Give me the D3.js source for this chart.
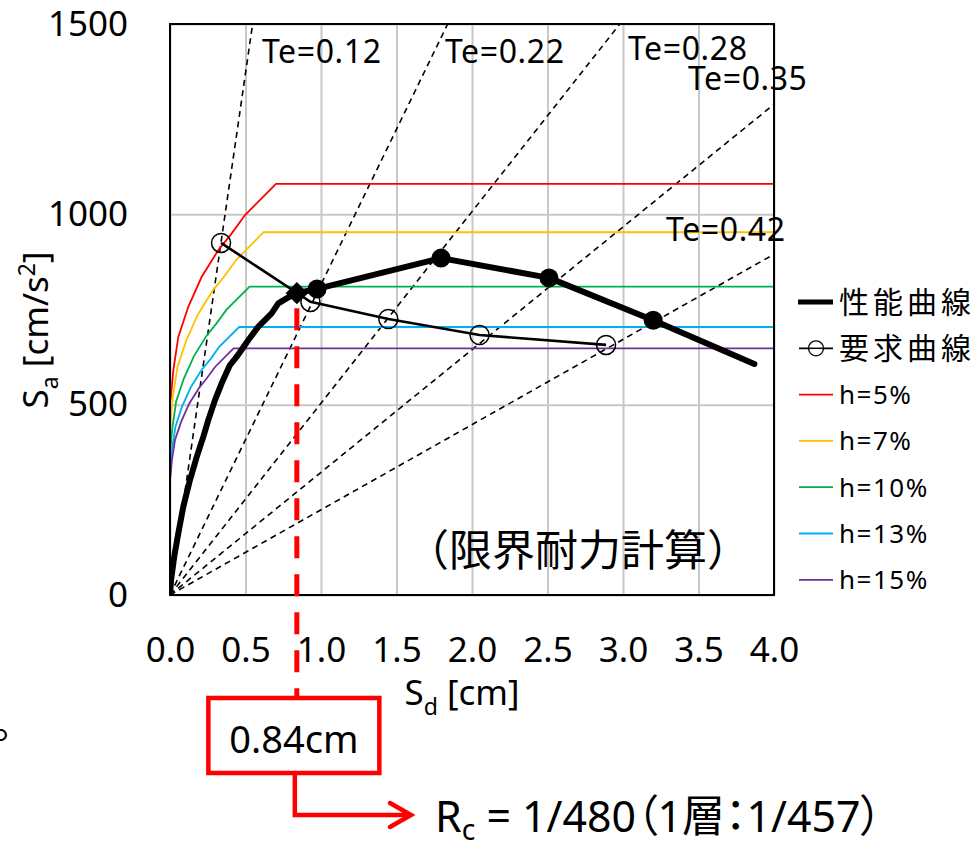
<!DOCTYPE html>
<html>
<head>
<meta charset="utf-8">
<script src="https://cdn.jsdelivr.net/npm/d3@7"></script>
<style>
  html, body { margin: 0; padding: 0; background: #fff; }
  svg { display: block; font-family: "Noto Sans", "Noto Sans CJK JP", sans-serif; }
  .palt { font-feature-settings: "palt" 1; }
</style>
</head>
<body>
<svg id="chart" width="980" height="844"></svg>
<script>
// ---- data ---------------------------------------------------------------
// axes: Sd [cm] horizontal, Sa [cm/s²] vertical
const xTicks = [0, 0.5, 1.0, 1.5, 2.0, 2.5, 3.0, 3.5, 4.0];
const yTicks = [0, 500, 1000, 1500];

// 性能曲線 (capacity curve) as [Sd, Sa]
const capacityCurve = [
  [0, 0], [0.007, 39], [0.028, 101], [0.055, 162], [0.088, 232], [0.132, 302],
  [0.177, 363], [0.221, 416], [0.254, 460], [0.298, 512], [0.342, 556],
  [0.397, 604], [0.442, 626], [0.519, 670], [0.585, 705], [0.673, 740],
  [0.717, 766], [0.775, 780], [0.84, 793], [0.974, 804], [1.795, 885],
  [2.51, 833], [3.20, 722], [3.87, 607]
];
// step points marked with filled dots
const capacitySteps = [[0.974, 804], [1.795, 885], [2.51, 833], [3.20, 722]];
// performance point (diamond)
const performancePoint = [0.84, 793];

// 要求曲線 (demand curve) as [Sd, Sa]
const demandCurve = [[0.338, 925], [0.93, 770], [1.446, 725], [2.05, 683], [2.888, 657]];

// equivalent periods of the radial guide lines
const periodsTe = [0.12, 0.22, 0.28, 0.35, 0.42];

// response spectra for each damping ratio, [Sd, Sa]
const dampingNames = ["h=5%", "h=7%", "h=10%", "h=13%", "h=15%"];
const spectrumH5 = [[0, 505], [0.007, 525], [0.022, 591], [0.055, 678], [0.121, 757], [0.21, 836],
  [0.32, 906], [0.409, 950], [0.497, 998], [0.702, 1080], [4.0, 1080]];
const spectrumH7 = [[0, 445], [0.006, 463], [0.019, 521], [0.049, 598], [0.107, 668], [0.185, 737],
  [0.282, 799], [0.361, 838], [0.438, 880], [0.619, 953], [4.0, 953]];
const spectrumH10 = [[0, 380], [0.005, 394], [0.017, 443], [0.041, 509], [0.091, 568], [0.158, 627],
  [0.24, 680], [0.307, 713], [0.373, 749], [0.527, 810], [4.0, 810]];
const spectrumH13 = [[0, 330], [0.005, 342], [0.014, 385], [0.036, 442], [0.079, 494], [0.137, 545],
  [0.209, 591], [0.267, 619], [0.324, 651], [0.458, 704], [4.0, 704]];
const spectrumH15 = [[0, 303], [0.004, 315], [0.013, 355], [0.033, 407], [0.073, 454], [0.126, 502],
  [0.192, 544], [0.245, 570], [0.298, 599], [0.421, 648], [4.0, 648]];

// response displacement and drift results
const responseSd = 0.84;
const driftRatio = "1/480";
const firstStoryDrift = "1/457";

// ---- layout -------------------------------------------------------------
const svg = d3.select("#chart");
const plot = { left: 170, top: 24, right: 774, bottom: 595 };
const x = d3.scaleLinear().domain([0, 4]).range([plot.left, plot.right]);
const y = d3.scaleLinear().domain([0, 1500]).range([plot.bottom, plot.top]);

const spectra = [spectrumH5, spectrumH7, spectrumH10, spectrumH13, spectrumH15];
const spectrumColors = ["#ff0000", "#ffc000", "#00b050", "#00b0f0", "#7030a0"];

svg.append("defs").append("clipPath").attr("id", "plotClip")
  .append("rect")
  .attr("x", plot.left).attr("y", plot.top)
  .attr("width", plot.right - plot.left).attr("height", plot.bottom - plot.top);

// gridlines
svg.append("g")
  .attr("transform", `translate(0,${plot.bottom})`)
  .call(d3.axisBottom(x).tickValues(xTicks).tickSize(-(plot.bottom - plot.top)).tickFormat(""))
  .call(g => g.select(".domain").remove())
  .call(g => g.selectAll("line").attr("stroke", "#c8c8c8").attr("stroke-width", 2));
svg.append("g")
  .attr("transform", `translate(${plot.left},0)`)
  .call(d3.axisLeft(y).tickValues(yTicks).tickSize(-(plot.right - plot.left)).tickFormat(""))
  .call(g => g.select(".domain").remove())
  .call(g => g.selectAll("line").attr("stroke", "#c8c8c8").attr("stroke-width", 2));

// tick labels
svg.append("g")
  .attr("transform", `translate(0,${plot.bottom})`)
  .call(d3.axisBottom(x).tickValues(xTicks).tickSize(0).tickPadding(42).tickFormat(d3.format(".1f")))
  .call(g => g.select(".domain").remove())
  .call(g => g.selectAll("text").attr("font-size", 35).attr("fill", "#000")
    .attr("font-family", "'Noto Sans', sans-serif"));
svg.append("g")
  .attr("transform", `translate(${plot.left},0)`)
  .call(d3.axisLeft(y).tickValues(yTicks).tickSize(0).tickPadding(42).tickFormat(d3.format("d")))
  .call(g => g.select(".domain").remove())
  .call(g => g.selectAll("text").attr("font-size", 35).attr("fill", "#000")
    .attr("font-family", "'Noto Sans', sans-serif"));

const body = svg.append("g").attr("clip-path", "url(#plotClip)");
const line = d3.line().x(d => x(d[0])).y(d => y(d[1]));

// radial period lines Sa = (2π/Te)² Sd
periodsTe.forEach(te => {
  const k = Math.pow(2 * Math.PI / te, 2);
  const sdEnd = Math.min(4, 1500 / k);
  body.append("path")
    .attr("d", line([[0, 0], [sdEnd, k * sdEnd]]))
    .attr("fill", "none").attr("stroke", "#000")
    .attr("stroke-width", 1.6).attr("stroke-dasharray", "6,4.5");
});

// damping spectra
spectra.forEach((s, i) => {
  body.append("path").attr("d", line(s))
    .attr("fill", "none").attr("stroke", spectrumColors[i]).attr("stroke-width", 1.8);
});

// demand curve
body.append("path").attr("d", line(demandCurve))
  .attr("fill", "none").attr("stroke", "#000").attr("stroke-width", 2.6);
body.selectAll("circle.demand").data(demandCurve).join("circle")
  .attr("class", "demand")
  .attr("cx", d => x(d[0])).attr("cy", d => y(d[1])).attr("r", 9.5)
  .attr("fill", "none").attr("stroke", "#000").attr("stroke-width", 1.5);

// capacity curve
body.append("path").attr("d", line(capacityCurve))
  .attr("fill", "none").attr("stroke", "#000").attr("stroke-width", 6)
  .attr("stroke-linejoin", "round").attr("stroke-linecap", "round");
body.selectAll("circle.step").data(capacitySteps).join("circle")
  .attr("class", "step")
  .attr("cx", d => x(d[0])).attr("cy", d => y(d[1])).attr("r", 9.5).attr("fill", "#000");
body.append("path")
  .attr("d", d3.symbol(d3.symbolSquare, 250)())
  .attr("transform", `translate(${x(performancePoint[0])},${y(performancePoint[1])}) rotate(45)`)
  .attr("fill", "#000");

// plot frame
svg.append("rect")
  .attr("x", plot.left).attr("y", plot.top)
  .attr("width", plot.right - plot.left).attr("height", plot.bottom - plot.top)
  .attr("fill", "none").attr("stroke", "#000").attr("stroke-width", 2);

// period labels, anchored in data units
const teLabelAt = [[0.609, 1397], [1.821, 1397], [3.033, 1405], [3.43, 1326], [3.285, 930]];
periodsTe.forEach((te, i) => {
  svg.append("text")
    .attr("x", x(teLabelAt[i][0])).attr("y", y(teLabelAt[i][1]))
    .attr("font-size", 32).attr("letter-spacing", 0.6).attr("fill", "#000")
    .text(`Te=${te.toFixed(2)}`);
});

// text with sub/superscripts
function richText(sel, parts, size, subShift = 0.28) {
  let shift = 0;
  parts.forEach(p => {
    const target = p.sub ? size * subShift : p.sup ? -size * 0.38 : 0;
    const ts = sel.append("tspan").attr("dy", target - shift).text(p.t);
    if (p.sub || p.sup) ts.attr("font-size", size * 0.66);
    shift = target;
  });
}

// axis titles
const xTitle = svg.append("text")
  .attr("x", 462).attr("y", 705).attr("text-anchor", "middle")
  .attr("font-size", 35).attr("fill", "#000");
richText(xTitle, [{ t: "S" }, { t: "d", sub: true }, { t: " [cm]" }], 35);

const yTitle = svg.append("text")
  .attr("transform", "translate(48,330) rotate(-90)").attr("text-anchor", "middle")
  .attr("font-size", 35).attr("fill", "#000");
richText(yTitle, [{ t: "S" }, { t: "a", sub: true }, { t: " [cm/s" }, { t: "2", sup: true }, { t: "]" }], 35);

// method caption
svg.append("text")
  .attr("x", 750).attr("y", 566).attr("text-anchor", "end")
  .attr("font-family", "'Noto Sans CJK JP', sans-serif")
  .attr("font-size", 43).attr("fill", "#000")
  .text("（限界耐力計算）");

// legend
const legendRows = [
  { name: "性能曲線", kind: "capacity" },
  { name: "要求曲線", kind: "demand" },
  ...dampingNames.map((n, i) => ({ name: n, kind: "spectrum", color: spectrumColors[i] }))
];
const legend = svg.append("g");
legendRows.forEach((r, i) => {
  const cy = 302 + i * 46.3;
  const g = legend.append("g");
  if (r.kind === "capacity") {
    g.append("line").attr("x1", 798).attr("x2", 833).attr("y1", cy).attr("y2", cy)
      .attr("stroke", "#000").attr("stroke-width", 5);
  } else if (r.kind === "demand") {
    g.append("line").attr("x1", 799).attr("x2", 833).attr("y1", cy).attr("y2", cy)
      .attr("stroke", "#000").attr("stroke-width", 1.8);
    g.append("circle").attr("cx", 816).attr("cy", cy).attr("r", 7.5)
      .attr("fill", "#fff").attr("stroke", "#000").attr("stroke-width", 1.3);
    g.append("line").attr("x1", 808).attr("x2", 824).attr("y1", cy).attr("y2", cy)
      .attr("stroke", "#000").attr("stroke-width", 1.5);
  } else {
    g.append("line").attr("x1", 799).attr("x2", 833).attr("y1", cy).attr("y2", cy)
      .attr("stroke", r.color).attr("stroke-width", 1.8);
  }
  const cjk = r.kind !== "spectrum";
  g.append("text")
    .attr("x", 839).attr("y", cy + (cjk ? 11 : 9.5))
    .attr("font-family", cjk ? "'Noto Sans CJK JP', sans-serif" : "'Noto Sans', sans-serif")
    .attr("font-size", cjk ? 30 : 26)
    .attr("letter-spacing", cjk ? 4 : 1.5)
    .attr("fill", "#000")
    .text(r.name);
});

// response displacement call-out
const red = "#ff0000";
const rx = x(responseSd);
const boxW = 171, boxH = 75, boxTop = 698;
svg.append("line")
  .attr("x1", rx).attr("x2", rx)
  .attr("y1", y(performancePoint[1]) + 15).attr("y2", boxTop)
  .attr("stroke", red).attr("stroke-width", 5).attr("stroke-dasharray", "22,16");
svg.append("rect")
  .attr("x", rx - 3 - boxW / 2).attr("y", boxTop).attr("width", boxW).attr("height", boxH)
  .attr("fill", "#fff").attr("stroke", red).attr("stroke-width", 4.5);
svg.append("text")
  .attr("x", rx - 3).attr("y", boxTop + 55).attr("text-anchor", "middle")
  .attr("font-size", 38).attr("fill", "#000")
  .text(`${responseSd.toFixed(2)}cm`);
svg.append("path")
  .attr("d", `M${rx - 2},${boxTop + boxH} V815 H409`)
  .attr("fill", "none").attr("stroke", red).attr("stroke-width", 4.5);
svg.append("path")
  .attr("d", "M390,803 L411,815 L390,827")
  .attr("fill", "none").attr("stroke", red).attr("stroke-width", 4.5)
  .attr("stroke-linecap", "round").attr("stroke-linejoin", "miter");

// drift result, condensed to its line width
const rc = svg.append("text")
  .attr("class", "palt")
  .attr("font-size", 44).attr("fill", "#000");
richText(rc, [{ t: "R" }, { t: "c", sub: true }, { t: ` = ${driftRatio}（1層：${firstStoryDrift}）` }], 44, 0.18);
const rcLen = rc.node().getComputedTextLength();
rc.attr("transform", `translate(435,832) scale(${447 / rcLen},1)`);

// clipped sentence mark at the page edge
svg.append("text")
  .attr("x", -7).attr("y", 738)
  .attr("font-family", "'Noto Sans CJK JP', sans-serif")
  .attr("font-size", 40).attr("fill", "#000")
  .text("。");
</script>
</body>
</html>
